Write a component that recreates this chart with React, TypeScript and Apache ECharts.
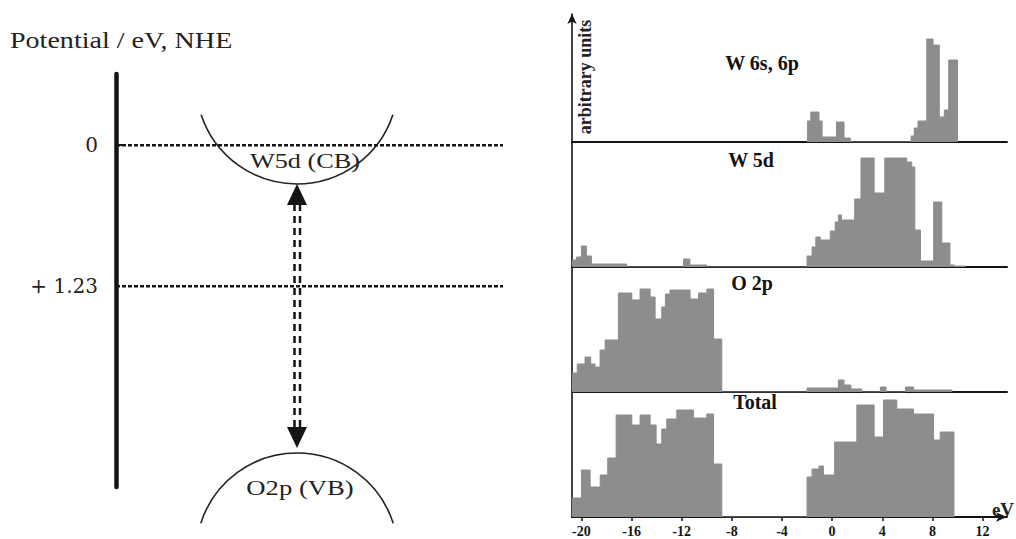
import React, { useEffect, useRef } from "react";
import * as echarts from "echarts";

// ---- Right panels: partial densities of states (histogram bins: bin start energy in eV, height in arbitrary units)
const w6sEnergy = [-2.0, -1.7, -1.05, -0.8, 0.35, 0.95, 1.45, 6.3, 6.55, 6.85, 7.55, 8.05, 8.55, 8.95, 9.3, 10.0];
const w6sHeight = [21, 30, 21, 5, 20, 4, 0, 6, 14, 21, 103, 97, 25, 32, 82, 0];

const w5dEnergy = [-20.75, -20.4, -20.0, -19.6, -19.2, -16.4, -11.85, -11.35, -10.0, -2.0, -1.6, -1.3, -0.95, -0.15, 0.25, 0.5, 0.75, 1.8, 2.3, 3.35, 4.2, 5.95, 6.35, 6.6, 7.05, 8.1, 8.75, 9.4, 9.75, 10.6];
const w5dHeight = [7, 10, 21, 11, 3, 0, 8, 2, 0, 11, 20, 30, 27, 36, 45, 52, 47, 68, 109, 74, 109, 105, 100, 37, 6, 65, 24, 2, 1, 0];

const o2pEnergy = [-20.75, -20.33, -19.71, -19.26, -18.91, -18.51, -18.11, -17.05, -15.98, -15.32, -14.52, -14.12, -13.59, -13.3, -12.93, -11.33, -10.66, -9.99, -9.46, -8.8, -2.0, 0.5, 0.95, 1.5, 2.35, 3.85, 4.3, 5.85, 6.5, 9.55];
const o2pHeight = [19, 28, 35, 28, 25, 42, 52, 99, 92, 103, 95, 73, 85, 98, 102, 93, 99, 103, 53, 0, 4, 12, 7, 3, 0, 5, 0, 5, 2, 0];

const totalEnergy = [-20.75, -20.0, -19.3, -18.5, -17.9, -17.23, -15.98, -15.32, -14.52, -14.04, -13.59, -13.19, -12.39, -11.06, -9.99, -9.46, -8.8, -2.0, -1.6, -1.05, -0.7, 0.2, 1.97, 3.35, 4.1, 5.16, 6.49, 8.09, 8.62, 9.72];
const totalHeight = [19, 47, 30, 42, 59, 102, 92, 102, 92, 73, 88, 98, 107, 99, 103, 53, 0, 40, 48, 51, 42, 75, 112, 80, 117, 108, 103, 77, 85, 0];

const panelTitles = ["W 6s, 6p", "W 5d", "O 2p", "Total"];
const energyTicks = [-20, -16, -12, -8, -4, 0, 4, 8, 12];

// ---- Left diagram: potential levels (V vs NHE)
const potentialLevels = [0, 1.23];
const potentialLabels = ["0", "+ 1.23"];

const pairs = (e: number[], h: number[]) => e.map((x, i) => [x, h[i]]);

const FILL = "#8d8d8d";
const INK = "#141414";

export default function App() {
  const ref = useRef<HTMLDivElement>(null);

  useEffect(() => {
    const chart = echarts.init(ref.current as HTMLDivElement, null, { renderer: "svg" });

    const panels = [
      { e: w6sEnergy, h: w6sHeight, top: 14, height: 128, max: 128 },
      { e: w5dEnergy, h: w5dHeight, top: 142, height: 125, max: 125 },
      { e: o2pEnergy, h: o2pHeight, top: 267, height: 125, max: 125 },
      { e: totalEnergy, h: totalHeight, top: 392, height: 125, max: 125 },
    ];

    const grids: any[] = panels.map((p) => ({ left: 572, width: 435, top: p.top, height: p.height }));
    grids.push({ left: 116, width: 387, top: 74, height: 413 });

    const xAxes: any[] = panels.map((_, i) => {
      const isBottom = i === panels.length - 1;
      return {
        type: "value",
        gridIndex: i,
        min: -20.75,
        max: 13.95,
        axisLine: {
          show: true,
          onZero: false,
          symbol: isBottom ? ["none", "arrow"] : ["none", "none"],
          symbolSize: [7, 11],
          lineStyle: { color: INK, width: 2 },
        },
        axisTick: {
          show: isBottom,
          customValues: energyTicks,
          length: 4,
          lineStyle: { color: INK, width: 1.5 },
        },
        axisLabel: {
          show: isBottom,
          customValues: energyTicks,
          fontFamily: "Liberation Serif",
          fontWeight: "bold",
          fontSize: 14,
          color: INK,
          margin: 7,
        },
        splitLine: { show: false },
      };
    });
    xAxes.push({ type: "value", gridIndex: 4, min: 0, max: 1, show: false });

    const yAxes: any[] = panels.map((p, i) => ({
      type: "value",
      gridIndex: i,
      min: 0,
      max: p.max,
      axisLine: {
        show: true,
        onZero: false,
        symbol: i === 0 ? ["none", "arrow"] : ["none", "none"],
        symbolSize: [7, 10],
        lineStyle: { color: INK, width: 1.6 },
      },
      axisTick: { show: false },
      axisLabel: { show: false },
      splitLine: { show: false },
    }));
    yAxes.push({
      type: "value",
      gridIndex: 4,
      inverse: true,
      min: -0.62,
      max: 2.98,
      axisLine: { show: true, onZero: false, lineStyle: { color: INK, width: 4.5 } },
      axisTick: {
        show: true,
        inside: true,
        customValues: [0],
        length: 9,
        lineStyle: { color: INK, width: 2 },
      },
      axisLabel: {
        show: true,
        customValues: potentialLevels,
        formatter: (v: number) => potentialLabels[potentialLevels.indexOf(v)] ?? "",
        fontFamily: "DejaVu Serif",
        fontSize: 20,
        color: "#222",
        margin: 18,
      },
      splitLine: { show: false },
    });

    const series: any[] = panels.map((p, i) => ({
      type: "line",
      xAxisIndex: i,
      yAxisIndex: i,
      step: "end",
      symbol: "none",
      data: pairs(p.e, p.h),
      lineStyle: { color: FILL, width: 1 },
      areaStyle: { color: FILL, opacity: 1 },
      silent: true,
    }));
    potentialLevels.forEach((v) => {
      series.push({
        type: "line",
        xAxisIndex: 4,
        yAxisIndex: 4,
        symbol: "none",
        data: [
          [0, v],
          [1, v],
        ],
        lineStyle: { color: INK, width: 2.5, type: [4, 2] },
        silent: true,
      });
    });

    const serif = '"Liberation Serif", "Times New Roman", serif';
    const titlePos = [
      [762, 63],
      [751, 160],
      [752, 283],
      [755, 402],
    ];

    const graphic: any[] = [
      // left diagram texts
      {
        type: "text",
        x: 10,
        y: 40,
        scaleX: 1.22,
        style: { text: "Potential / eV, NHE", font: `23px ${serif}`, fill: "#222", textAlign: "left", textVerticalAlign: "middle" },
      },
      {
        type: "text",
        x: 305,
        y: 161,
        scaleX: 1.25,
        style: { text: "W5d (CB)", font: `21px ${serif}`, fill: "#222", textAlign: "center", textVerticalAlign: "middle" },
      },
      {
        type: "text",
        x: 300,
        y: 488,
        scaleX: 1.27,
        style: { text: "O2p (VB)", font: `21px ${serif}`, fill: "#222", textAlign: "center", textVerticalAlign: "middle" },
      },
      // band arcs
      {
        type: "arc",
        shape: { cx: 297, cy: 83, r: 101, startAngle: 0.32, endAngle: Math.PI - 0.32, clockwise: true },
        style: { stroke: "#222", lineWidth: 1.6, fill: "none" },
      },
      {
        type: "arc",
        shape: { cx: 297, cy: 554, r: 101, startAngle: Math.PI + 0.31, endAngle: 2 * Math.PI - 0.31, clockwise: true },
        style: { stroke: "#222", lineWidth: 1.6, fill: "none" },
      },
      // double dashed arrow
      {
        type: "line",
        shape: { x1: 294.5, y1: 204, x2: 294.5, y2: 428 },
        style: { stroke: INK, lineWidth: 2.5, lineDash: [7, 5] },
      },
      {
        type: "line",
        shape: { x1: 300, y1: 204, x2: 300, y2: 428 },
        style: { stroke: INK, lineWidth: 2.5, lineDash: [7, 5] },
      },
      {
        type: "polygon",
        shape: { points: [[297, 184], [287, 205], [307, 205]] },
        style: { fill: INK },
      },
      {
        type: "polygon",
        shape: { points: [[297, 448], [287, 427], [307, 427]] },
        style: { fill: INK },
      },
      // right panel labels
      {
        type: "text",
        x: 585,
        y: 77,
        rotation: Math.PI / 2,
        style: { text: "arbitrary units", font: `bold 18px ${serif}`, fill: "#222", textAlign: "center", textVerticalAlign: "middle" },
      },
      {
        type: "text",
        x: 1003,
        y: 509,
        style: { text: "eV", font: `bold 19px ${serif}`, fill: "#222", textAlign: "center", textVerticalAlign: "middle" },
      },
      ...panelTitles.map((t, i) => ({
        type: "text",
        x: titlePos[i][0],
        y: titlePos[i][1],
        style: { text: t, font: `bold 20px ${serif}`, fill: "#111", textAlign: "center", textVerticalAlign: "middle" },
      })),
    ];

    chart.setOption({
      animation: false,
      backgroundColor: "#ffffff",
      grid: grids,
      xAxis: xAxes,
      yAxis: yAxes,
      series,
      graphic,
    });

    return () => chart.dispose();
  }, []);

  return (
    <div
      ref={ref}
      style={{ position: "fixed", left: 0, top: 0, width: 1016, height: 539, background: "#fff" }}
    />
  );
}
